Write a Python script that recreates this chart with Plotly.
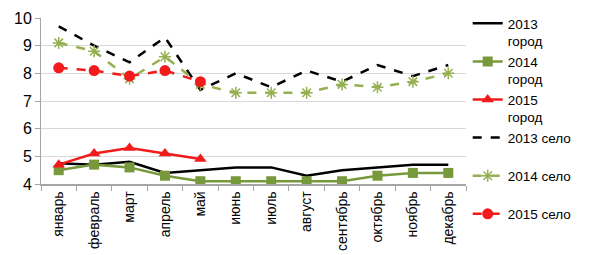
import plotly.graph_objects as go

months = ["январь", "февраль", "март", "апрель", "май", "июнь", "июль",
          "август", "сентябрь", "октябрь", "ноябрь", "декабрь"]
city_2013 = [4.75, 4.7, 4.8, 4.4, 4.5, 4.6, 4.6, 4.3, 4.5, 4.6, 4.7, 4.7]
city_2014 = [4.5, 4.7, 4.6, 4.3, 4.1, 4.1, 4.1, 4.1, 4.1, 4.3, 4.4, 4.4]
city_2015 = [4.7, 5.1, 5.3, 5.1, 4.9]
village_2013 = [9.7, 9.0, 8.4, 9.3, 7.4, 8.0, 7.5, 8.1, 7.7, 8.3, 7.9, 8.3]
village_2014 = [9.1, 8.8, 7.8, 8.6, 7.6, 7.3, 7.3, 7.3, 7.6, 7.5, 7.7, 8.0]
village_2015 = [8.2, 8.1, 7.9, 8.1, 7.7]
y_ticks = [4, 5, 6, 7, 8, 9, 10]

green = "#77983B"
lgreen = "#94B050"
red = "#F21B1B"

fig = go.Figure()
fig.add_trace(go.Scatter(x=months, y=city_2013, name="2013<br>город", mode="lines",
                         line=dict(color="black", width=2.5), legendgroup="a"))
fig.add_trace(go.Scatter(x=months, y=city_2014, name="2014<br>город", mode="lines+markers",
                         line=dict(color=green, width=2.5),
                         marker=dict(symbol="square", size=10, color=green), legendgroup="b"))
fig.add_trace(go.Scatter(x=months[:5], y=city_2015, name="2015<br>город", mode="lines+markers",
                         line=dict(color=red, width=2.5),
                         marker=dict(symbol="triangle-up", size=11, color=red), legendgroup="c"))
fig.add_trace(go.Scatter(x=months, y=village_2013, name="2013 село<br>&nbsp;", mode="lines",
                         line=dict(color="black", width=2.5, dash="dash"), legendgroup="d"))
fig.add_trace(go.Scatter(x=months, y=village_2014, name="2014 село<br>&nbsp;", mode="lines+markers",
                         line=dict(color=lgreen, width=2.5, dash="dash"),
                         marker=dict(symbol="asterisk-open", size=10,
                                     line=dict(color=green, width=1.5)), legendgroup="e"))
fig.add_trace(go.Scatter(x=months[:5], y=village_2015, name="2015 село", mode="lines+markers",
                         line=dict(color=red, width=2.5, dash="dash"),
                         marker=dict(symbol="circle", size=11, color=red), legendgroup="f"))

fig.update_layout(
    width=591, height=255,
    margin=dict(l=33, r=133, t=10, b=79, autoexpand=False),
    plot_bgcolor="white", paper_bgcolor="white",
    font=dict(family="Liberation Sans, Arial, sans-serif", size=14, color="black"),
    showlegend=True,
    legend=dict(x=1.004, y=1.046, xanchor="left", yanchor="top",
                yref="container", maxheight=270,
                font=dict(size=13.5), valign="top", traceorder="grouped",
                tracegroupgap=0, itemwidth=30),
)
fig.update_xaxes(type="category", tickangle=-90, showgrid=False,
                 showline=True, linecolor="#A6A6A6", linewidth=1.5,
                 ticks="outside", tickson="boundaries", ticklen=5, tickcolor="#A6A6A6",
                 tickfont=dict(size=14), range=[-0.5, 11.5])
fig.update_yaxes(range=[4, 10], tickvals=y_ticks, showgrid=True, gridcolor="#D9D9D9",
                 gridwidth=1, showline=True, linecolor="#A6A6A6", linewidth=1,
                 ticks="outside", ticklen=5, tickcolor="#A6A6A6",
                 tickfont=dict(size=16), zeroline=False)

fig.write_html("out.html")
